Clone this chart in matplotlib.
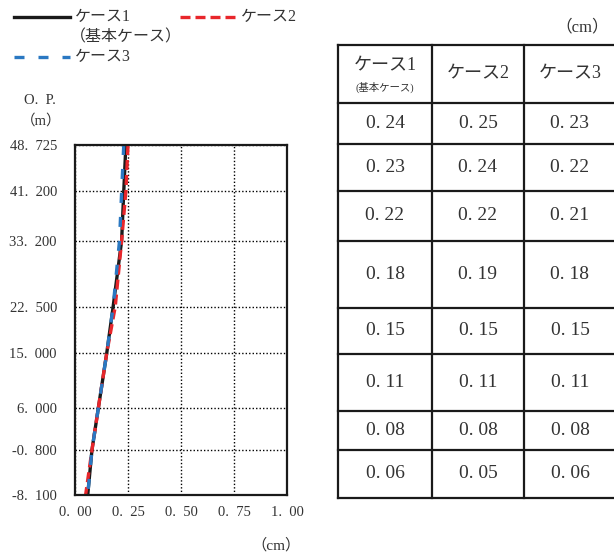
import matplotlib.pyplot as plt
from matplotlib.lines import Line2D

plt.rcParams['font.family'] = ['Liberation Serif', 'Noto Sans CJK JP', 'DejaVu Sans']

# elevations O.P. (m)
levels = [48.725, 41.200, 33.200, 22.500, 15.000, 6.000, -0.800, -8.100]
# max displacement (cm)
case1 = [0.24, 0.23, 0.22, 0.18, 0.15, 0.11, 0.08, 0.06]
case2 = [0.25, 0.24, 0.22, 0.19, 0.15, 0.11, 0.08, 0.05]
case3 = [0.23, 0.22, 0.21, 0.18, 0.15, 0.11, 0.08, 0.06]
cases = [case1, case2, case3]
xticks = [0.00, 0.25, 0.50, 0.75, 1.00]

W, H = 614, 556
fig = plt.figure(figsize=(W / 100, H / 100), dpi=100)


def fx(x):
    return x / W


def fy(y):
    return 1 - y / H


def fmt(v, n, gap=" "):
    return ("{:.%df}" % n).format(v).replace(".", "." + gap)


black = '#1a1a1a'
red = '#e8262b'
blue = '#2a78c2'
txt = '#333333'

# ---- profile plot
ax = fig.add_axes([fx(75), fy(495), fx(287) - fx(75), fy(145) - fy(495)])
ax.plot(case1, levels, color=black, lw=2.4, solid_capstyle='butt')
ax.plot(case2, levels, color=red, lw=2.4, dashes=(3, 1.5))
ax.plot(case3, levels, color=blue, lw=2.4, dashes=(3, 4.2))
ax.set_xlim(0, 1)
ax.set_ylim(-8.1, 48.725)
ax.set_xticks(xticks)
ax.set_xticklabels([fmt(v, 2, "  ") for v in xticks])
ax.set_yticks(levels)
ax.set_yticklabels([fmt(v, 3, "  ") for v in levels])
ax.tick_params(length=0, labelsize=10.5, colors=txt)
ax.tick_params(axis='y', pad=13)
ax.tick_params(axis='x', pad=8)
ax.grid(True, color='black', lw=1, linestyle=(0, (1, 1.5)))
for s in ax.spines.values():
    s.set_linewidth(1.6)
    s.set_color(black)

fig.text(fx(40), fy(101), "O.  P.", ha='center', va='center', fontsize=10.5, color=txt)
fig.text(fx(41), fy(121), "（m）", ha='center', va='center', fontsize=10.5, color=txt)
fig.text(fx(276), fy(545), "（cm）", ha='center', va='center', fontsize=11, color=txt)

# ---- legend
legend = [(14, 17, black, None, "ケース1"), (180, 17, red, (3, 1.5), "ケース2"),
          (14, 57, blue, (3, 4.2), "ケース3")]
for x0, y0, c, d, lab in legend:
    ln = Line2D([fx(x0), fx(x0 + 56)], [fy(y0), fy(y0)], transform=fig.transFigure,
                color=c, lw=2.4)
    if d:
        ln.set_dashes(d)
    fig.add_artist(ln)
    fig.text(fx(x0 + 61), fy(y0), lab, ha='left', va='center', fontsize=11.5, color=txt)
fig.text(fx(70), fy(37), "（基本ケース）", ha='left', va='center', fontsize=11.5, color=txt)

# ---- table
col_edges = [338, 432, 524, 616]
row_edges = [45, 103, 144, 191, 241, 308, 354, 411, 450, 498]
tb = fig.add_axes([fx(338), fy(498), fx(616) - fx(338), fy(45) - fy(498)])
tb.set_xlim(338, 616)
tb.set_ylim(498, 45)
tb.axis('off')
for r in row_edges:
    tb.plot([col_edges[0], col_edges[-1]], [r, r], color=black, lw=1.6, clip_on=False)
for c in col_edges:
    tb.plot([c, c], [row_edges[0], row_edges[-1]], color=black, lw=1.6, clip_on=False)

heads = ["ケース1", "ケース2", "ケース3"]
for j, h in enumerate(heads):
    cx = (col_edges[j] + col_edges[j + 1]) / 2
    cy = (row_edges[0] + row_edges[1]) / 2
    if j == 0:
        tb.text(cx, cy - 8, h, ha='center', va='center', fontsize=13, color=txt)
        tb.text(cx, cy + 13, "(基本ケース)", ha='center', va='center', fontsize=7.5, color=txt)
    else:
        tb.text(cx, cy, h, ha='center', va='center', fontsize=13, color=txt)

for j, vals in enumerate(cases):
    cx = (col_edges[j] + col_edges[j + 1]) / 2
    for i, v in enumerate(vals):
        cy = (row_edges[i + 1] + row_edges[i + 2]) / 2
        tb.text(cx, cy, fmt(v, 2), ha='center', va='center', fontsize=14, color=txt)

fig.text(fx(582), fy(27), "（cm）", ha='center', va='center', fontsize=12, color=txt)

fig.savefig("out.png", dpi=100)
